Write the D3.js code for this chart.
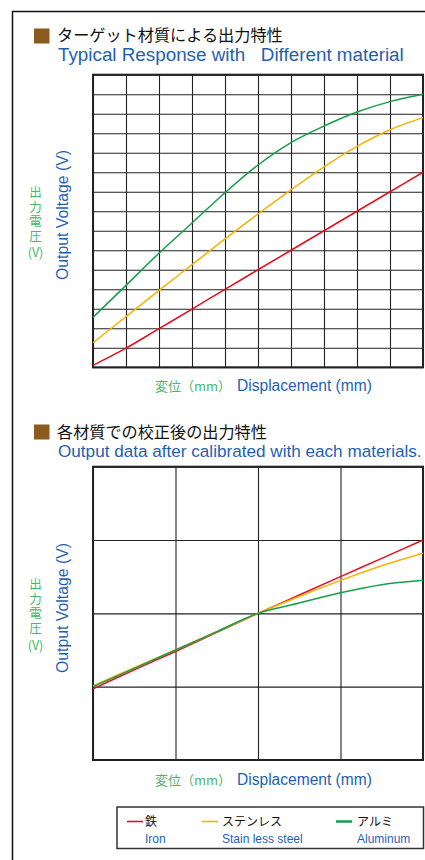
<!DOCTYPE html>
<html><head><meta charset="utf-8">
<script src="https://cdn.jsdelivr.net/npm/d3@7"></script>
<style>
html,body{margin:0;padding:0;background:#fff;}
svg{display:block;}
text{font-family:"Noto Sans CJK JP","Noto Sans",sans-serif; white-space:pre;}
text.en{font-family:"Liberation Sans",Arial,sans-serif;}
text.vert{writing-mode:vertical-rl; text-orientation:upright;}
</style></head>
<body>
<svg id="c" width="425" height="860"></svg>
<script>
// ---- data ----
const materials = ["鉄", "ステンレス", "アルミ"];
const materialsEn = ["Iron", "Stain less steel", "Aluminum"];
const colors = ["#e60e1e", "#f7b300", "#12a04a"];

// Chart 1: typical response (x: displacement grid units 0..10, y: output grid units 0..15)
const disp1 = [0,1,2,3,4,5,6,7,8,9,10];
const iron1 = [0.1,0.98,1.98,2.98,4.0,5.0,6.0,7.0,8.0,9.0,10.0];
const sus1  = [1.26,2.6,3.94,5.26,6.58,7.86,9.1,10.28,11.33,12.18,12.8];
const alu1  = [2.56,4.2,5.85,7.4,8.95,10.37,11.52,12.37,13.09,13.62,14.0];

// Chart 2: after calibration (x 0..4, y 0..4)
const disp2 = [0,0.5,1,1.5,2,2.5,3,3.5,4];
const iron2 = [0.97,1.23,1.48,1.74,2.0,2.25,2.5,2.75,3.0];
const sus2  = [1.01,1.26,1.5,1.75,2.0,2.23,2.45,2.65,2.82];
const alu2  = [1.0,1.25,1.5,1.75,2.0,2.14,2.28,2.39,2.45];

const title1Jp = "ターゲット材質による出力特性";
const title1En = "Typical Response with   Different material";
const title2Jp = "各材質での校正後の出力特性";
const title2En = "Output data after calibrated with each materials.";
const yLabJp = "出力電圧";
const yLabUnit = "(V)";
const yLabEn = "Output Voltage (V)";
const xLabJp = "変位（mm）";
const xLabEn = "Displacement (mm)";

const BLUE = "#1f5fb2", GREEN_T = "#45b868", BROWN = "#8a5a1f";

const svg = d3.select("#c");
function fit(sel, w){
  const n = sel.node(); const l = n.getComputedTextLength();
  const fs = parseFloat(sel.attr("font-size"));
  sel.attr("font-size", fs * w / l);
  return sel;
}

// outer frame
svg.append("path").attr("d","M12.5,860 V11.5 H440").attr("fill","none").attr("stroke","#111").attr("stroke-width",1.5);

function title(yTop, jp, en, jpW, enW, jpBase, enBase){
  svg.append("rect").attr("x",34).attr("y",yTop).attr("width",15.5).attr("height",15).attr("fill",BROWN);
  fit(svg.append("text").attr("x",57).attr("y",jpBase).attr("font-size",16).attr("fill","#111").text(jp), jpW);
  fit(svg.append("text").attr("class","en").attr("x",58).attr("y",enBase).attr("font-size",16).attr("fill",BLUE).text(en), enW);
}
title(28.5, title1Jp, title1En, 226, 346, 40.5, 61);
title(424.5, title2Jp, title2En, 210, 364, 437.5, 456.5);

function chart(cfg){
  const x = d3.scaleLinear().domain(cfg.xd).range([93,423]);
  const y = d3.scaleLinear().domain(cfg.yd).range([cfg.bottom, cfg.top]);
  const g = svg.append("g");
  const w = 330, h = cfg.bottom - cfg.top;
  g.append("g").attr("transform",`translate(0,${cfg.bottom})`)
    .call(d3.axisBottom(x).tickValues(d3.range(cfg.xd[0], cfg.xd[1]+1, 1)).tickSize(-h).tickFormat(""))
    .call(s=>{s.select(".domain").remove(); s.selectAll("line").attr("stroke","#222").attr("stroke-width",1.1);});
  g.append("g").attr("transform","translate(93,0)")
    .call(d3.axisLeft(y).tickValues(d3.range(cfg.yd[0], cfg.yd[1]+1, 1)).tickSize(-w).tickFormat(""))
    .call(s=>{s.select(".domain").remove(); s.selectAll("line").attr("stroke","#222").attr("stroke-width",1.1);});
  g.append("rect").attr("x",93).attr("y",cfg.top).attr("width",w).attr("height",h)
    .attr("fill","none").attr("stroke","#222").attr("stroke-width",2);
  const line = d3.line().x(d=>x(d[0])).y(d=>y(d[1])).curve(d3.curveCatmullRom.alpha(0.5));
  cfg.series.forEach((s,i)=>{
    g.append("path").datum(cfg.xs.map((v,j)=>[v,s[j]])).attr("d",line)
      .attr("fill","none").attr("stroke",colors[i]).attr("stroke-width",1.5);
  });
  // y labels
  fit(svg.append("text").attr("class","en").attr("transform",`translate(68,${cfg.labCy}) rotate(-90)`).attr("text-anchor","middle")
    .attr("font-size",15).attr("fill",BLUE).text(yLabEn), 130);
  svg.append("text").attr("class","vert").attr("x",35.5).attr("y",cfg.jpTop)
    .attr("font-size",12.5).attr("letter-spacing",2).attr("fill",GREEN_T).text(yLabJp);
  svg.append("text").attr("x",35.5).attr("y",cfg.unitBase).attr("text-anchor","middle")
    .attr("font-size",12.5).attr("fill",GREEN_T).text(yLabUnit);
  // x labels
  svg.append("text").attr("x",155).attr("y",cfg.xBase).attr("font-size",13).attr("fill",GREEN_T).text(xLabJp);
  fit(svg.append("text").attr("class","en").attr("x",237).attr("y",cfg.xBase).attr("font-size",14).attr("fill",BLUE).text(xLabEn), 135);
}

chart({xd:[0,10], yd:[0,15], top:74.7, bottom:367.3, xs:disp1, series:[iron1,sus1,alu1],
  labCy:215, jpTop:186, unitBase:257, xBase:391});
chart({xd:[0,4], yd:[0,4], top:466.7, bottom:760, xs:disp2, series:[iron2,sus2,alu2],
  labCy:608, jpTop:578, unitBase:650, xBase:785});

// legend
svg.append("rect").attr("x",117).attr("y",807).attr("width",306.5).attr("height",41.5)
  .attr("fill","#fff").attr("stroke","#333").attr("stroke-width",1.5);
const lx = [127, 202, 336];
const tx = [145, 222, 357];
materials.forEach((m,i)=>{
  svg.append("line").attr("x1",lx[i]).attr("x2",lx[i]+16).attr("y1",821.5).attr("y2",821.5)
    .attr("stroke",colors[i]).attr("stroke-width", i===2?2.5:1.6);
  svg.append("text").attr("x",tx[i]).attr("y",826).attr("font-size",12).attr("fill","#111").text(m);
  svg.append("text").attr("class","en").attr("x",tx[i]).attr("y",843).attr("font-size",12).attr("fill",BLUE).text(materialsEn[i]);
});
</script>
</body></html>
